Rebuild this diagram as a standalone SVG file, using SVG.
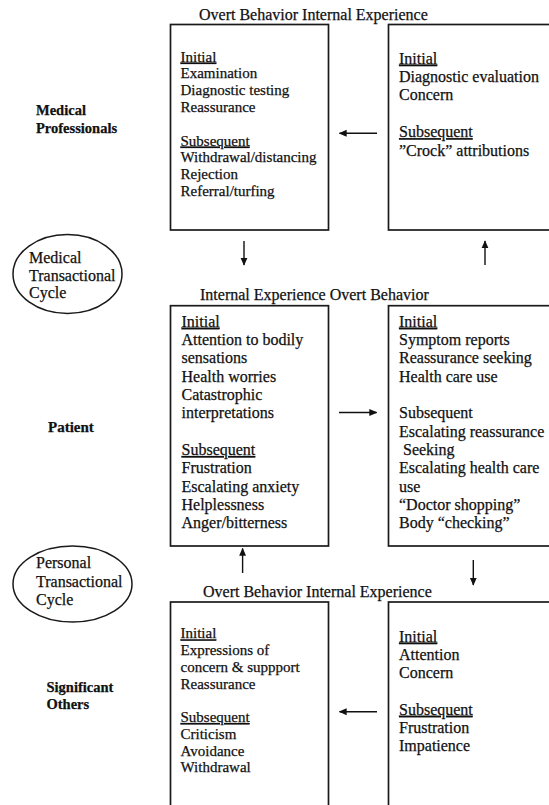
<svg xmlns="http://www.w3.org/2000/svg" width="549" height="805" viewBox="0 0 549 805">
<style>
text{font-family:"Liberation Serif","Times New Roman",serif;fill:#111;stroke:#111;stroke-width:0.25}
.t{font-size:16px}
.s{font-size:15px}
.m{font-size:16px}
.b{font-weight:bold;font-size:14.5px}
.u{text-decoration:underline}
.box{fill:none;stroke:#1a1a1a;stroke-width:1.7}
.ell{fill:none;stroke:#1a1a1a;stroke-width:1.5}
.arr{stroke:#111;stroke-width:1.4;fill:none;marker-end:url(#ah)}
</style>
<defs>
<marker id="ah" viewBox="0 0 10 10" refX="9" refY="5" markerWidth="5.7" markerHeight="5.7" orient="auto" markerUnits="strokeWidth">
<path d="M0,0.7 L10,5 L0,9.3 z" fill="#111"/>
</marker>
</defs>
<rect width="549" height="805" fill="#fff"/>

<g id="row-labels">
<text class="b" x="36" y="115">Medical</text>
<text class="b" x="36" y="132.7">Professionals</text>
<text class="b" x="48" y="432" style="font-size:15px">Patient</text>
<text class="b" x="46.5" y="691.7">Significant</text>
<text class="b" x="46.5" y="709.3">Others</text>
</g>

<g id="titles">
<text class="t" x="199" y="20">Overt Behavior Internal Experience</text>
<text class="t" x="200" y="299.5">Internal Experience Overt Behavior</text>
<text class="t" x="203" y="597">Overt Behavior Internal Experience</text>
</g>

<g id="cycle-medical">
<ellipse class="ell" cx="67.5" cy="274" rx="54.5" ry="39.5"/>
<text class="m" x="29" y="263">Medical</text>
<text class="m" x="29" y="280.5">Transactional</text>
<text class="m" x="29" y="298">Cycle</text>
</g>

<g id="cycle-personal">
<ellipse class="ell" cx="72.5" cy="584" rx="59.5" ry="38"/>
<text class="m" x="36" y="568">Personal</text>
<text class="m" x="36" y="586.5">Transactional</text>
<text class="m" x="36" y="604.5">Cycle</text>
</g>

<g id="med-overt">
<rect class="box" x="170.5" y="24.5" width="158" height="205.5"/>
<text class="s" x="180.5" y="61.5"><tspan class="u">Initial</tspan></text>
<text class="s" x="180.5" y="78.3">Examination</text>
<text class="s" x="180.5" y="95.1">Diagnostic testing</text>
<text class="s" x="180.5" y="111.9">Reassurance</text>
<text class="s" x="180.5" y="145.5"><tspan class="u">Subsequent</tspan></text>
<text class="s" x="180.5" y="162.3">Withdrawal/distancing</text>
<text class="s" x="180.5" y="179.1">Rejection</text>
<text class="s" x="180.5" y="195.9">Referral/turfing</text>
</g>

<g id="med-internal">
<rect class="box" x="388.5" y="24.5" width="175" height="205.5"/>
<text class="m" x="399" y="63.5"><tspan class="u">Initial</tspan></text>
<text class="m" x="399" y="81.9">Diagnostic evaluation</text>
<text class="m" x="399" y="100.3">Concern</text>
<text class="m" x="399" y="137.1"><tspan class="u">Subsequent</tspan></text>
<text class="m" x="399" y="155.5">”Crock” attributions</text>
</g>

<g id="pat-internal">
<rect class="box" x="170.5" y="305.7" width="158" height="240.3"/>
<text class="m" x="181.5" y="326.7"><tspan class="u">Initial</tspan></text>
<text class="m" x="181.5" y="345">Attention to bodily</text>
<text class="m" x="181.5" y="363.3">sensations</text>
<text class="m" x="181.5" y="381.7">Health worries</text>
<text class="m" x="181.5" y="400">Catastrophic</text>
<text class="m" x="181.5" y="418.3">interpretations</text>
<text class="m" x="181.5" y="455"><tspan class="u">Subsequent</tspan></text>
<text class="m" x="181.5" y="473.3">Frustration</text>
<text class="m" x="181.5" y="491.7">Escalating anxiety</text>
<text class="m" x="181.5" y="510">Helplessness</text>
<text class="m" x="181.5" y="528.3">Anger/bitterness</text>
</g>

<g id="pat-overt">
<rect class="box" x="388.5" y="305.7" width="175" height="240.3"/>
<text class="m" x="399" y="326.7"><tspan class="u">Initial</tspan></text>
<text class="m" x="399" y="345">Symptom reports</text>
<text class="m" x="399" y="363.3">Reassurance seeking</text>
<text class="m" x="399" y="381.7">Health care use</text>
<text class="m" x="399" y="418.3">Subsequent</text>
<text class="m" x="399" y="436.7">Escalating reassurance</text>
<text class="m" x="399" y="455" xml:space="preserve"> Seeking</text>
<text class="m" x="399" y="473.3">Escalating health care</text>
<text class="m" x="399" y="491.7">use</text>
<text class="m" x="399" y="510">“Doctor shopping”</text>
<text class="m" x="399" y="528.3">Body “checking”</text>
</g>

<g id="sig-overt">
<rect class="box" x="170.5" y="602" width="158" height="220"/>
<text class="s" x="180.5" y="638.3"><tspan class="u">Initial</tspan></text>
<text class="s" x="180.5" y="655">Expressions of</text>
<text class="s" x="180.5" y="671.8">concern &amp; suppport</text>
<text class="s" x="180.5" y="688.5">Reassurance</text>
<text class="s" x="180.5" y="722"><tspan class="u">Subsequent</tspan></text>
<text class="s" x="180.5" y="738.8">Criticism</text>
<text class="s" x="180.5" y="755.5">Avoidance</text>
<text class="s" x="180.5" y="772.3">Withdrawal</text>
</g>

<g id="sig-internal">
<rect class="box" x="388.5" y="602" width="175" height="220"/>
<text class="m" x="399" y="641.5"><tspan class="u">Initial</tspan></text>
<text class="m" x="399" y="659.8">Attention</text>
<text class="m" x="399" y="678.1">Concern</text>
<text class="m" x="399" y="714.7"><tspan class="u">Subsequent</tspan></text>
<text class="m" x="399" y="733">Frustration</text>
<text class="m" x="399" y="751.3">Impatience</text>
</g>

<g id="connectors">
<line class="arr" x1="377" y1="133.3" x2="339.5" y2="133.3"/>
<line class="arr" x1="244" y1="241" x2="244" y2="265"/>
<line class="arr" x1="485" y1="265" x2="485" y2="241"/>
<line class="arr" x1="339" y1="412.5" x2="376.5" y2="412.5"/>
<line class="arr" x1="473.3" y1="560" x2="473.3" y2="585"/>
<line class="arr" x1="242.6" y1="573" x2="242.6" y2="548.5"/>
<line class="arr" x1="377" y1="711.7" x2="339.5" y2="711.7"/>
</g>
</svg>
